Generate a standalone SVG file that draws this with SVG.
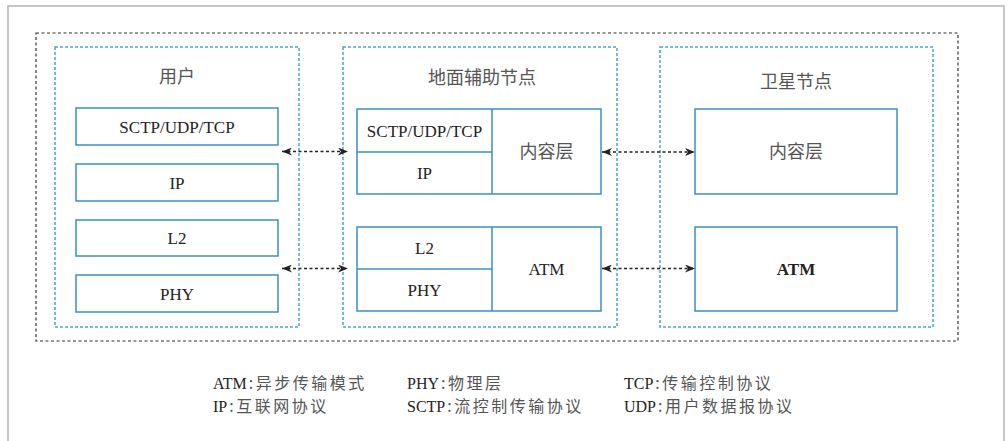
<svg xmlns="http://www.w3.org/2000/svg" width="1008" height="441" viewBox="0 0 1008 441">
<style>
.frame{fill:none;stroke:#b4b4b4;stroke-width:1.5}
.outer{fill:none;stroke:#333;stroke-width:1.2;stroke-dasharray:3 2.5}
.grp{fill:none;stroke:#4aa3d8;stroke-width:1.5;stroke-dasharray:3 2}
.box{fill:#fff;stroke:#3b8fc6;stroke-width:1.5}
.div{stroke:#3b8fc6;stroke-width:1.5}
.lat{font-family:"Liberation Serif","Times New Roman",serif;font-size:17px;fill:#222;text-anchor:middle}
.cjk{font-family:"Noto Sans CJK SC","Noto Sans",sans-serif;font-size:18px;fill:#555;text-anchor:middle}
.leg{font-family:"Liberation Serif",serif;font-size:16px;fill:#222}
.legc{font-family:"Noto Sans CJK SC","Noto Sans",sans-serif;font-size:16px;letter-spacing:2.5px;fill:#555}
.conn{fill:none;stroke:#222;stroke-width:1.3;stroke-dasharray:3 2.5}
</style>
<defs>
<marker id="ah" viewBox="0 0 10 8" refX="10" refY="4" markerWidth="10" markerHeight="8" markerUnits="userSpaceOnUse" orient="auto-start-reverse">
<path d="M0,0 L10,4 L0,8 L3,4 Z" fill="#222"/>
</marker>
</defs>
<rect class="frame" x="8" y="6" width="996" height="445"/>
<rect class="outer" x="36" y="33" width="922" height="308"/>

<g id="user">
<rect class="grp" x="55" y="47" width="244" height="280"/>
<text class="cjk" x="177" y="83">用户</text>
<rect class="box" x="76" y="108" width="202" height="37"/>
<text class="lat" x="177" y="132.5">SCTP/UDP/TCP</text>
<rect class="box" x="76" y="164" width="202" height="37"/>
<text class="lat" x="177" y="188.5">IP</text>
<rect class="box" x="76" y="220" width="202" height="36"/>
<text class="lat" x="177" y="244">L2</text>
<rect class="box" x="76" y="275" width="202" height="37"/>
<text class="lat" x="177" y="299.5">PHY</text>
</g>

<g id="ground">
<rect class="grp" x="343" y="47" width="274" height="280"/>
<text class="cjk" x="482" y="84">地面辅助节点</text>
<rect class="box" x="357" y="109" width="244" height="85"/>
<line class="div" x1="492" y1="109" x2="492" y2="194"/>
<line class="div" x1="357" y1="152" x2="492" y2="152"/>
<text class="lat" x="424.5" y="136.5">SCTP/UDP/TCP</text>
<text class="lat" x="424.5" y="179">IP</text>
<text class="cjk" x="546.5" y="158">内容层</text>
<rect class="box" x="357" y="227" width="244" height="84"/>
<line class="div" x1="492" y1="227" x2="492" y2="311"/>
<line class="div" x1="357" y1="269" x2="492" y2="269"/>
<text class="lat" x="424.5" y="254">L2</text>
<text class="lat" x="424.5" y="296">PHY</text>
<text class="lat" x="546.5" y="275">ATM</text>
</g>

<g id="satellite">
<rect class="grp" x="660" y="47" width="273" height="280"/>
<text class="cjk" x="796" y="88">卫星节点</text>
<rect class="box" x="695" y="109" width="202" height="85"/>
<text class="cjk" x="796" y="158">内容层</text>
<rect class="box" x="695" y="227" width="202" height="84"/>
<text class="lat" x="796" y="275" font-weight="bold">ATM</text>
</g>

<g id="connectors">
<line class="conn" x1="282" y1="151.5" x2="348" y2="151.5" marker-start="url(#ah)" marker-end="url(#ah)"/>
<line class="conn" x1="282" y1="268.5" x2="348" y2="268.5" marker-start="url(#ah)" marker-end="url(#ah)"/>
<line class="conn" x1="602" y1="152" x2="695" y2="152" marker-start="url(#ah)" marker-end="url(#ah)"/>
<line class="conn" x1="602" y1="268.5" x2="695" y2="268.5" marker-start="url(#ah)" marker-end="url(#ah)"/>
</g>

<g id="legend">
<text x="213" y="389"><tspan class="leg">ATM</tspan><tspan class="legc" dx="2">:</tspan><tspan class="legc">异步传输模式</tspan></text>
<text x="407" y="389"><tspan class="leg">PHY</tspan><tspan class="legc" dx="2">:</tspan><tspan class="legc">物理层</tspan></text>
<text x="624" y="389"><tspan class="leg">TCP</tspan><tspan class="legc" dx="2">:</tspan><tspan class="legc">传输控制协议</tspan></text>
<text x="213" y="412"><tspan class="leg">IP</tspan><tspan class="legc" dx="2">:</tspan><tspan class="legc">互联网协议</tspan></text>
<text x="407" y="412"><tspan class="leg">SCTP</tspan><tspan class="legc" dx="2">:</tspan><tspan class="legc">流控制传输协议</tspan></text>
<text x="624" y="412"><tspan class="leg">UDP</tspan><tspan class="legc" dx="2">:</tspan><tspan class="legc">用户数据报协议</tspan></text>
</g>
</svg>
